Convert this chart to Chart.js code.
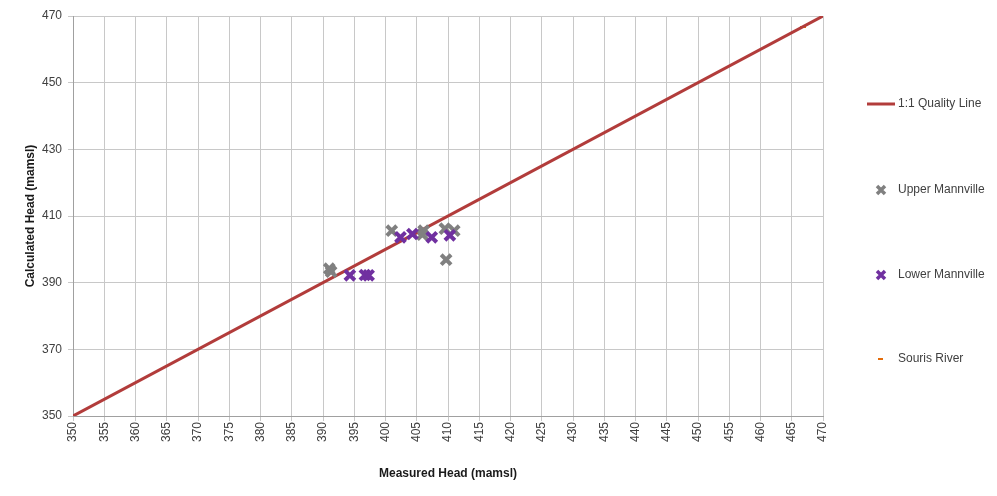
<!DOCTYPE html>
<html>
<head>
<meta charset="utf-8">
<script src="https://cdn.jsdelivr.net/npm/chart.js@4"></script>
<style>
  html, body { margin: 0; padding: 0; background: #fff; }
  #wrap { width: 997px; height: 496px; }
</style>
</head>
<body>
<div id="wrap"><canvas id="myChart" width="997" height="496"></canvas></div>
<script>
const qualityLine = [{x: 350, y: 350}, {x: 470, y: 470}];
const upperMeasured = [391.0, 391.3, 401.0, 405.9, 406.1, 409.5, 409.7, 411.0];
const upperCalculated = [394.2, 393.3, 405.6, 404.4, 405.6, 406.2, 396.9, 405.6];
const lowerMeasured = [394.3, 396.7, 397.3, 402.4, 404.3, 407.4, 410.3];
const lowerCalculated = [392.2, 392.3, 392.2, 403.6, 404.6, 403.6, 404.2];
const sourisMeasured = [466.8];
const sourisCalculated = [466.7];
const xTicks = [350, 355, 360, 365, 370, 375, 380, 385, 390, 395, 400, 405, 410, 415, 420, 425, 430, 435, 440, 445, 450, 455, 460, 465, 470];
const yTicks = [350, 370, 390, 410, 430, 450, 470];

const toPoints = (xs, ys) => xs.map((x, i) => ({x: x, y: ys[i]}));

const FONT = "'Liberation Sans', Arial, sans-serif";

// Legende rechts, wie im Original mit großem Abstand
const sideLegend = {
  id: 'sideLegend',
  afterDraw(chart) {
    const c = chart.ctx;
    const rows = [104, 190, 275, 359];
    c.save();
    c.font = '12px ' + FONT;
    c.fillStyle = '#404040';
    c.textBaseline = 'middle';
    chart.data.datasets.forEach((ds, i) => {
      const y = rows[i];
      c.strokeStyle = ds.borderColor;
      if (i === 0) {
        c.lineWidth = 3;
        c.beginPath(); c.moveTo(867, y); c.lineTo(895, y); c.stroke();
      } else if (ds.pointStyle === 'crossRot') {
        c.lineWidth = 3.5;
        const r = 4;
        c.beginPath();
        c.moveTo(881 - r, y - r); c.lineTo(881 + r, y + r);
        c.moveTo(881 - r, y + r); c.lineTo(881 + r, y - r);
        c.stroke();
      } else {
        c.lineWidth = 2;
        c.beginPath(); c.moveTo(878, y); c.lineTo(883, y); c.stroke();
      }
      c.fillText(ds.label, 898, y);
    });
    c.restore();
  }
};

const ctx = document.getElementById('myChart').getContext('2d');
const myChart = new Chart(ctx, {
  type: 'scatter',
  data: {
    datasets: [{
      label: '1:1 Quality Line',
      type: 'line',
      data: qualityLine,
      borderColor: '#b23c3b',
      borderWidth: 3,
      pointRadius: 0,
      order: 3
    }, {
      label: 'Upper Mannville',
      data: toPoints(upperMeasured, upperCalculated),
      pointStyle: 'crossRot',
      pointRadius: 7,
      borderColor: '#808080',
      backgroundColor: '#808080',
      borderWidth: 4,
      order: 2
    }, {
      label: 'Lower Mannville',
      data: toPoints(lowerMeasured, lowerCalculated),
      pointStyle: 'crossRot',
      pointRadius: 7,
      borderColor: '#7030a0',
      backgroundColor: '#7030a0',
      borderWidth: 4,
      order: 1
    }, {
      label: 'Souris River',
      data: toPoints(sourisMeasured, sourisCalculated),
      pointStyle: 'line',
      pointRadius: 3,
      borderColor: '#e46c0a',
      borderWidth: 2,
      order: 4
    }]
  },
  options: {
    responsive: false,
    animation: false,
    layout: { padding: { left: 19, right: 174, top: 16, bottom: 11 } },
    plugins: {
      legend: { display: false },
      tooltip: { enabled: false }
    },
    scales: {
      x: {
        type: 'linear',
        min: 350, max: 470,
        afterBuildTicks: axis => { axis.ticks = xTicks.map(v => ({value: v})); },
        afterFit: axis => { axis.height = 69; },
        ticks: {
          minRotation: 90, maxRotation: 90,
          color: '#404040',
          font: { family: FONT, size: 12 },
          padding: 1
        },
        grid: { color: '#c8c8c8', tickLength: 5 },
        border: { color: '#a0a0a0' },
        title: {
          display: true,
          text: 'Measured Head (mamsl)',
          color: '#1a1a1a',
          font: { family: FONT, size: 12, weight: 'bold' }
        }
      },
      y: {
        type: 'linear',
        min: 350, max: 470,
        afterBuildTicks: axis => { axis.ticks = yTicks.map(v => ({value: v})); },
        afterFit: axis => { axis.width = 54; },
        ticks: {
          color: '#404040',
          font: { family: FONT, size: 12 },
          padding: 6
        },
        grid: { color: '#c8c8c8', tickLength: 5 },
        border: { color: '#a0a0a0' },
        title: {
          display: true,
          text: 'Calculated Head (mamsl)',
          color: '#1a1a1a',
          font: { family: FONT, size: 12, weight: 'bold' }
        }
      }
    }
  },
  plugins: [sideLegend]
});
</script>
</body>
</html>
